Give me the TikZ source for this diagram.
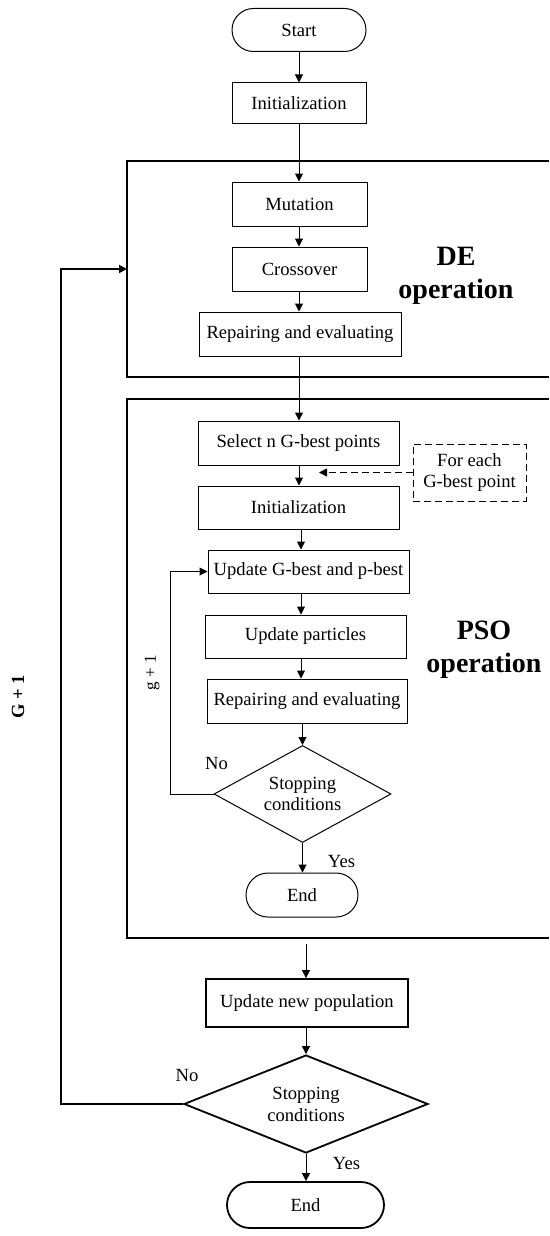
\documentclass[tikz,border=0pt]{standalone}
\usepackage{fontspec}
\setmainfont{Liberation Serif}
\usetikzlibrary{arrows.meta,shapes.geometric}
\begin{document}
\begin{tikzpicture}[x=1pt,y=-1pt,
  font=\fontsize{18.6}{21}\selectfont,
  box/.style={draw,line width=1pt,inner sep=0pt,minimum height=44pt},
  tbox/.style={draw,line width=1.8pt,inner sep=0pt,minimum height=48pt},
  term/.style={draw,line width=1pt,inner sep=0pt,rounded corners=21.5pt},
  dia/.style={draw,diamond,inner sep=0pt},
  dbox/.style={draw,dashed,dash pattern=on 7pt off 4pt,line width=1pt,inner sep=0pt,align=center},
  arr/.style={-{Triangle[length=8pt,width=8pt]},line width=1pt},
  group/.style={line width=2pt},
  big/.style={font=\fontsize{28}{33}\selectfont\bfseries,align=center}
]
\useasboundingbox (0,0) rectangle (549,1236);

% group frames (open on the right)
\draw[group] (549,161) -- (127,161) -- (127,377) -- (549,377);
\draw[group] (549,399) -- (127,399) -- (127,938) -- (549,938);
\node[big] (delab) at (456,276) {DE\\operation};
\node[big] (psolab) at (484,650) {PSO\\operation};

% columns for straight connectors
\coordinate (cA) at (299,0);
\coordinate (cB) at (301,0);
\coordinate (cC) at (306,0);

\node[term,minimum width=134pt,minimum height=43pt] (start) at (299,30) {Start};
\node[box,minimum width=134pt,minimum height=41pt] (init1) at (299,103.5) {Initialization};
\node[box,minimum width=135pt] (mut) at (299.5,204) {Mutation};
\node[box,minimum width=135pt] (cross) at (299.5,269) {Crossover};
\node[box,minimum width=202pt] (rep1) at (300,334) {Repairing and evaluating};

\node[box,minimum width=201pt] (sel) at (298.5,443) {Select n G-best points};
\node[box,minimum width=201pt,minimum height=43pt] (init2) at (298.5,507.5) {Initialization};
\node[dbox,minimum width=113pt,minimum height=57pt] (each) at (469.5,472.5) {For each\\G-best point};
\node[box,minimum width=201pt,minimum height=43pt] (upd) at (308.5,571.5) {Update G-best and p-best};
\node[box,minimum width=201pt,minimum height=43pt] (part) at (305.5,636.5) {Update particles};
\node[box,minimum width=200pt] (rep2) at (307,701) {Repairing and evaluating};
\node[dia,line width=1pt,minimum width=177pt,minimum height=97pt] (d1) at (302.5,794) {};
\node[align=center] (d1t) at (d1) {Stopping\\conditions};
\node[term,minimum width=112pt,minimum height=44pt,rounded corners=22pt] (end1) at (302,895) {End};

\node[tbox,minimum width=202pt] (newpop) at (307,1003) {Update new population};
\node[dia,line width=1.8pt,minimum width=244pt,minimum height=98pt] (d2) at (306,1104) {};
\node[align=center,font=\fontsize{18.6}{22}\selectfont] (d2t) at (d2) {Stopping\\conditions};
\node[term,line width=1.8pt,minimum width=157pt,minimum height=46pt,rounded corners=23pt] (end2) at (305.5,1205) {End};

% connectors
\draw[arr] (start.south -| cA) -- (init1.north -| cA);
\draw[arr] (init1.south -| cA) -- (mut.north -| cA);
\draw[arr] (mut.south -| cA) -- (cross.north -| cA);
\draw[arr] (cross.south -| cA) -- (rep1.north -| cA);
\draw[arr] (rep1.south -| cA) -- (sel.north -| cA);
\draw[arr] (sel.south -| cA) -- (init2.north -| cA);
\coordinate (dtip) at (319,472.5);
\draw[arr,dashed,dash pattern=on 7pt off 4pt] (each.west) -- (dtip);
\draw[arr] (init2.south -| cB) -- (upd.north -| cB);
\draw[arr] (upd.south -| cB) -- (part.north -| cB);
\draw[arr] (part.south -| cB) -- (rep2.north -| cB);
\draw[arr] (rep2.south -| d1) -- (d1.north);
\draw[arr] (d1.south) -- (end1.north -| d1);
\draw[arr] (d1.west) -- ++(-43,0) |- (upd.west);
\node (no1) at (216.5,763) {No};
\node (yes1) at (341.5,861) {Yes};
\node[rotate=90,font=\fontsize{17}{20}\selectfont] (g1) at (152,673) {g + 1};

\coordinate (pout) at (306,944);
\draw[arr] (pout) -- (newpop.north -| pout);
\draw[arr] (newpop.south -| cC) -- (d2.north);
\draw[arr] (d2.south) -- (end2.north -| d2);
\coordinate (deL) at (127,269);
\draw[arr,line width=1.8pt] (d2.west) -- (61,1104) |- (deL);
\node (no2) at (187,1075) {No};
\node (yes2) at (346.5,1163) {Yes};
\node[rotate=90,font=\fontsize{18.6}{21}\selectfont\bfseries] (G1) at (18,697) {G + 1};
\end{tikzpicture}
\end{document}
